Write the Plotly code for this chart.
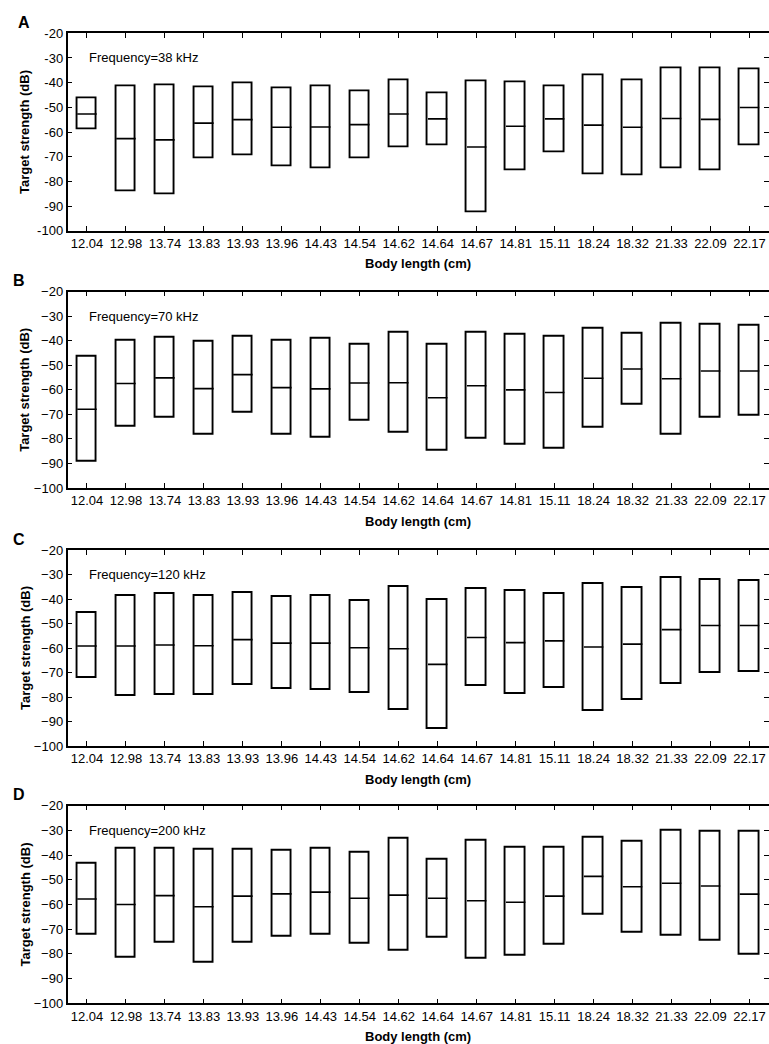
import plotly.graph_objects as go

lengths = ["12.04", "12.98", "13.74", "13.83", "13.93", "13.96", "14.43", "14.54", "14.62",
           "14.64", "14.67", "14.81", "15.11", "18.24", "18.32", "21.33", "22.09", "22.17"]

max38 = [-46.5, -41.5, -41.2, -41.8, -40.4, -42.2, -41.4, -43.5, -39.2, -44.5, -39.5, -39.9, -41.4, -37.2, -38.9, -34.3, -34.2, -34.6]
mean38 = [-52.7, -62.7, -63.2, -56.4, -55.0, -58.1, -58.0, -57.0, -52.7, -54.7, -66.1, -57.7, -54.7, -57.2, -58.1, -54.5, -54.9, -50.1]
min38 = [-58.9, -84.1, -85.1, -70.8, -69.6, -74.1, -74.6, -70.5, -66.1, -65.4, -92.4, -75.7, -68.4, -77.0, -77.4, -74.6, -75.7, -65.5]

max70 = [-46.5, -39.9, -38.9, -40.5, -38.4, -39.8, -39.3, -41.5, -36.7, -41.7, -36.7, -37.6, -38.3, -35.2, -37.1, -33.0, -33.3, -33.7]
mean70 = [-67.9, -57.4, -55.1, -59.5, -53.8, -59.1, -59.6, -57.2, -57.1, -63.2, -58.3, -60.0, -61.1, -55.3, -51.5, -55.5, -52.3, -52.3]
min70 = [-89.3, -75.1, -71.2, -78.1, -69.2, -78.2, -79.6, -72.6, -77.5, -84.6, -80.0, -82.3, -83.8, -75.4, -65.9, -78.1, -71.3, -70.7]

max120 = [-45.9, -38.9, -38.1, -38.9, -37.7, -39.2, -38.9, -40.9, -35.2, -40.4, -35.8, -36.6, -37.8, -33.8, -35.7, -31.3, -32.1, -32.8]
mean120 = [-59.2, -59.2, -58.8, -59.1, -56.6, -58.0, -58.0, -59.9, -60.3, -66.7, -55.7, -57.8, -57.1, -59.6, -58.4, -52.5, -50.8, -50.8]
min120 = [-72.4, -79.6, -79.3, -79.2, -75.3, -76.8, -77.3, -78.5, -85.5, -93.1, -75.6, -78.9, -76.2, -85.9, -81.2, -74.6, -70.2, -69.7]

max200 = [-43.5, -37.6, -37.6, -38.0, -37.8, -38.1, -37.4, -39.0, -33.4, -41.7, -34.3, -37.1, -37.0, -33.0, -34.4, -30.1, -30.5, -30.7]
mean200 = [-57.8, -60.0, -56.4, -60.9, -56.6, -55.7, -55.0, -57.5, -56.2, -57.5, -58.5, -59.1, -56.6, -48.6, -52.8, -51.4, -52.5, -55.8]
min200 = [-72.3, -81.6, -75.3, -83.5, -75.3, -73.2, -72.4, -76.0, -78.8, -73.6, -82.1, -80.6, -76.1, -64.3, -71.3, -72.6, -74.7, -80.2]

panel_letters = ["A", "B", "C", "D"]
freq_labels = ["Frequency=38 kHz", "Frequency=70 kHz", "Frequency=120 kHz", "Frequency=200 kHz"]
y_ticks = [-100, -90, -80, -70, -60, -50, -40, -30, -20]
y_ticktext_hyphen = ["-100", "-90", "-80", "-70", "-60", "-50", "-40", "-30", "-20"]
y_ticktext_minus = ["\u2212100", "\u221290", "\u221280", "\u221270", "\u221260", "\u221250", "\u221240", "\u221230", "\u221220"]

panels = [(max38, mean38, min38), (max70, mean70, min70), (max120, mean120, min120), (max200, mean200, min200)]

W, H = 769, 1044
FONT = "Liberation Sans, Arial, Helvetica, sans-serif"
tops = [33.3, 291.7, 550.0, 805.7]
bottoms = [230.7, 488.0, 746.0, 1003.3]
left_px = 67.5
BOX_W = 0.5

fig = go.Figure()
idx = list(range(len(lengths)))
annotations = []
for p, (mx, mn_, lo) in enumerate(panels):
    xa = "x" if p == 0 else f"x{p+1}"
    ya = "y" if p == 0 else f"y{p+1}"
    fig.add_trace(go.Bar(
        x=idx, y=[a - b for a, b in zip(mx, lo)], base=lo, width=BOX_W,
        marker=dict(color="white", line=dict(color="black", width=1.9)),
        xaxis=xa, yaxis=ya, showlegend=False, hoverinfo="skip"))
    lx, ly = [], []
    for i, m in zip(idx, mn_):
        lx += [i - BOX_W / 2, i + BOX_W / 2, None]
        ly += [m, m, None]
    fig.add_trace(go.Scatter(x=lx, y=ly, mode="lines", line=dict(color="black", width=1.6),
                             xaxis=xa, yaxis=ya, showlegend=False, hoverinfo="skip"))

    ydom = [1 - bottoms[p] / H, 1 - tops[p] / H]
    axis_common = dict(showline=True, linecolor="black", linewidth=1.5, mirror="ticks",
                       ticks="inside", ticklen=5, tickwidth=1.3, tickcolor="black",
                       showgrid=False, zeroline=False, automargin=False,
                       tickfont=dict(family=FONT, size=13, color="black"))
    fig.layout[("xaxis" if p == 0 else f"xaxis{p+1}")] = dict(
        domain=[left_px / W, 1.0], range=[-0.5, 17.5], anchor=ya,
        tickmode="array", tickvals=idx, ticktext=lengths, **axis_common)
    fig.layout[("yaxis" if p == 0 else f"yaxis{p+1}")] = dict(
        domain=ydom, range=[-100, -20], anchor=xa,
        tickmode="array", tickvals=y_ticks,
        ticktext=y_ticktext_hyphen if p == 0 else y_ticktext_minus, **axis_common)

    annotations.append(dict(x=0, y=-30, xref=xa, yref=ya, text=freq_labels[p],
                            showarrow=False, xanchor="left", yanchor="middle",
                            font=dict(family=FONT, size=13, color="black")))
    annotations.append(dict(x=25 / W, y=1 - (tops[p] + bottoms[p]) / 2 / H, xref="paper", yref="paper",
                            text="<b>Target strength (dB)</b>", textangle=-90, showarrow=False,
                            xanchor="center", yanchor="middle",
                            font=dict(family=FONT, size=13, color="black")))
    annotations.append(dict(x=(left_px + 769) / 2 / W, y=1 - (bottoms[p] + 33) / H, xref="paper", yref="paper",
                            text="<b>Body length (cm)</b>", showarrow=False,
                            xanchor="center", yanchor="middle",
                            font=dict(family=FONT, size=13, color="black")))
    annotations.append(dict(x=(23.5 if p == 0 else 19) / W, y=1 - (tops[p] - 11) / H, xref="paper", yref="paper",
                            text=f"<b>{panel_letters[p]}</b>", showarrow=False,
                            xanchor="center", yanchor="middle",
                            font=dict(family=FONT, size=16, color="black")))

fig.update_layout(width=W, height=H, autosize=False,
                  margin=dict(l=0, r=0, t=0, b=0),
                  paper_bgcolor="white", plot_bgcolor="white",
                  annotations=annotations, bargap=0)

fig.write_html("out.html", config={"displayModeBar": False},
               post_script="document.body.style.margin='0';document.body.style.padding='0';"
                           "document.documentElement.style.overflow='hidden';")
